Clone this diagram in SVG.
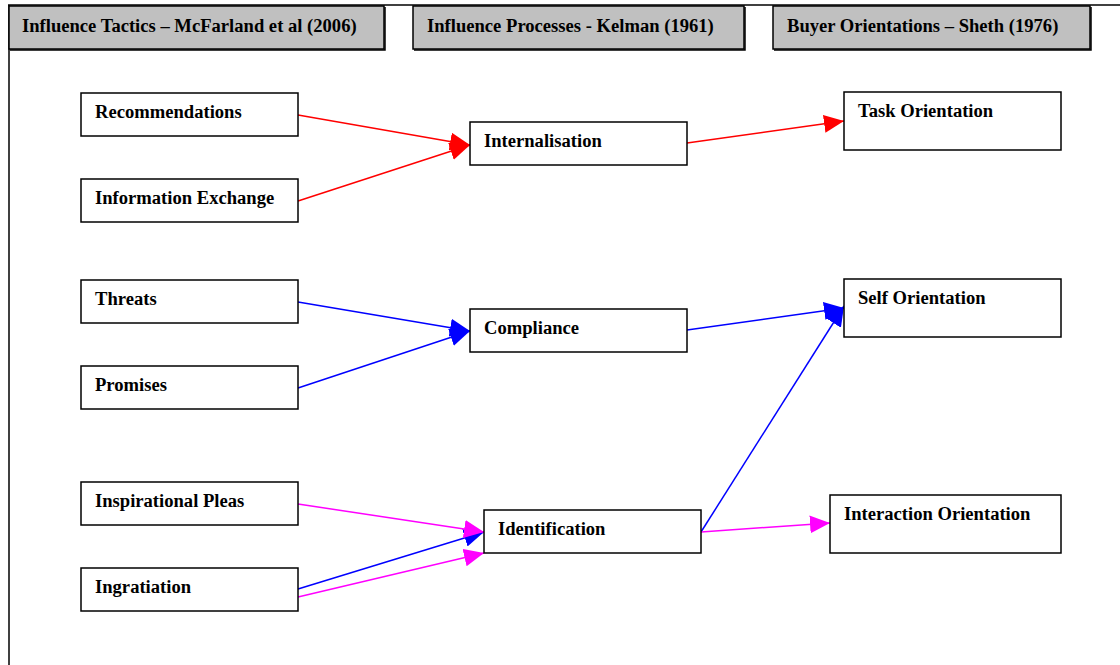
<svg xmlns="http://www.w3.org/2000/svg" width="1120" height="665" viewBox="0 0 1120 665">
  <style>
    .hdr { fill: #c0c0c0; stroke: #000; stroke-width: 1.5; }
    .shadow { fill: none; stroke: #000; stroke-width: 1.5; }
    .box { fill: #fff; stroke: #000; stroke-width: 1.5; }
    .t { font-family: "Liberation Serif", "Times New Roman", serif; font-weight: bold; font-size: 18.6px; fill: #000; }
    .red { stroke: #ff0000; stroke-width: 1.5; fill: none; }
    .blue { stroke: #0000ff; stroke-width: 1.5; fill: none; }
    .mag { stroke: #ff00ff; stroke-width: 1.5; fill: none; }
  </style>
  <defs>
    <marker id="ar" markerUnits="userSpaceOnUse" markerWidth="22" markerHeight="20" refX="20" refY="9" orient="auto">
      <path d="M0,0 L20,9 L0,18 Z" fill="#ff0000"/>
    </marker>
    <marker id="ab" markerUnits="userSpaceOnUse" markerWidth="22" markerHeight="20" refX="20" refY="9" orient="auto">
      <path d="M0,0 L20,9 L0,18 Z" fill="#0000ff"/>
    </marker>
    <marker id="am" markerUnits="userSpaceOnUse" markerWidth="22" markerHeight="20" refX="20" refY="9" orient="auto">
      <path d="M0,0 L20,9 L0,18 Z" fill="#ff00ff"/>
    </marker>
  </defs>
  <rect width="1120" height="665" fill="#fff"/>

  <!-- outer frame -->
  <g id="frame">
    <line x1="8" y1="5" x2="1120" y2="5" stroke="#000" stroke-width="1.5"/>
    <line x1="9" y1="5" x2="9" y2="665" stroke="#000" stroke-width="1.5"/>
  </g>

  <!-- column headers -->
  <g id="hdr-tactics">
    <rect class="hdr" x="9" y="6" width="375" height="43"/>
    <path class="shadow" d="M385,7 V50 H10"/>
    <text class="t" x="22" y="32">Influence Tactics – McFarland et al (2006)</text>
  </g>
  <g id="hdr-processes">
    <rect class="hdr" x="413" y="6" width="331" height="43"/>
    <path class="shadow" d="M745,7 V50 H414"/>
    <text class="t" x="427" y="32">Influence Processes - Kelman (1961)</text>
  </g>
  <g id="hdr-orientations">
    <rect class="hdr" x="773" y="6" width="317" height="43"/>
    <path class="shadow" d="M1091,7 V50 H774"/>
    <text class="t" x="787" y="32">Buyer Orientations – Sheth (1976)</text>
  </g>

  <!-- connectors -->
  <g id="connectors">
    <line class="red" x1="298" y1="115" x2="470" y2="145" marker-end="url(#ar)"/>
    <line class="red" x1="298" y1="201" x2="470" y2="145" marker-end="url(#ar)"/>
    <line class="red" x1="687" y1="143" x2="844" y2="121" marker-end="url(#ar)"/>
    <line class="blue" x1="298" y1="302" x2="470" y2="331" marker-end="url(#ab)"/>
    <line class="blue" x1="298" y1="388" x2="470" y2="331" marker-end="url(#ab)"/>
    <line class="blue" x1="687" y1="330" x2="844" y2="308" marker-end="url(#ab)"/>
    <line class="blue" x1="701" y1="532" x2="844" y2="306" marker-end="url(#ab)"/>
    <line class="blue" x1="298" y1="589" x2="484" y2="532" marker-end="url(#ab)"/>
    <line class="mag" x1="298" y1="504" x2="484" y2="532" marker-end="url(#am)"/>
    <line class="mag" x1="298" y1="597" x2="484" y2="553" marker-end="url(#am)"/>
    <line class="mag" x1="701" y1="532" x2="830" y2="523" marker-end="url(#am)"/>
  </g>

  <!-- influence tactics -->
  <g id="n-recommendations">
    <rect class="box" x="81" y="93" width="217" height="43"/>
    <text class="t" x="95" y="118">Recommendations</text>
  </g>
  <g id="n-information-exchange">
    <rect class="box" x="81" y="179" width="217" height="43"/>
    <text class="t" x="95" y="204">Information Exchange</text>
  </g>
  <g id="n-threats">
    <rect class="box" x="81" y="280" width="217" height="43"/>
    <text class="t" x="95" y="305">Threats</text>
  </g>
  <g id="n-promises">
    <rect class="box" x="81" y="366" width="217" height="43"/>
    <text class="t" x="95" y="391">Promises</text>
  </g>
  <g id="n-inspirational-pleas">
    <rect class="box" x="81" y="482" width="217" height="43"/>
    <text class="t" x="95" y="507">Inspirational Pleas</text>
  </g>
  <g id="n-ingratiation">
    <rect class="box" x="81" y="568" width="217" height="43"/>
    <text class="t" x="95" y="593">Ingratiation</text>
  </g>

  <!-- influence processes -->
  <g id="n-internalisation">
    <rect class="box" x="470" y="122" width="217" height="43"/>
    <text class="t" x="484" y="147">Internalisation</text>
  </g>
  <g id="n-compliance">
    <rect class="box" x="470" y="309" width="217" height="43"/>
    <text class="t" x="484" y="334">Compliance</text>
  </g>
  <g id="n-identification">
    <rect class="box" x="484" y="510" width="217" height="43"/>
    <text class="t" x="498" y="535">Identification</text>
  </g>

  <!-- buyer orientations -->
  <g id="n-task">
    <rect class="box" x="844" y="92" width="217" height="58"/>
    <text class="t" x="858" y="117">Task Orientation</text>
  </g>
  <g id="n-self">
    <rect class="box" x="844" y="279" width="217" height="58"/>
    <text class="t" x="858" y="304">Self Orientation</text>
  </g>
  <g id="n-interaction">
    <rect class="box" x="830" y="495" width="231" height="58"/>
    <text class="t" x="844" y="520">Interaction Orientation</text>
  </g>
</svg>
